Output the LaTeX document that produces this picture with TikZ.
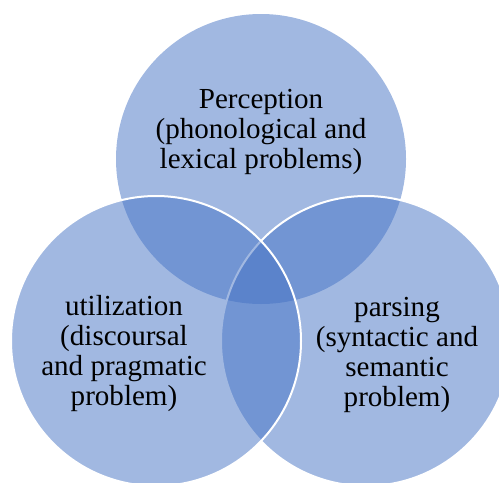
\documentclass[tikz,border=0pt]{standalone}
\usepackage{fontspec}
\setmainfont{Liberation Serif}
\definecolor{vennblue}{HTML}{4472C4}
\begin{document}
\begin{tikzpicture}[x=0.75pt,y=-0.75pt,line join=round,
	set/.style={circle,minimum size=217.5pt,inner sep=0pt,fill=vennblue,fill opacity=0.5,draw=white,line width=1.5pt},
	lbl/.style={align=center,text=black,font=\fontsize{21.8}{22.5}\selectfont}]
	\useasboundingbox (0,0) rectangle (499,482);
	% the three sets
	\node[set,draw=none] (perception) at (261,159) {};
	\node[set] (parsing) at (366,341) {};
	\node[set] (utilization) at (156,341) {};
	% texts
	\node[lbl] (perceptiontxt) at (261,132) {Perception\\(phonological and\\lexical problems)};
	\node[lbl] (utilizationtxt) at (124,354) {utilization\\(discoursal\\and pragmatic\\problem)};
	\node[lbl] (parsingtxt) at (397,355) {parsing\\(syntactic and\\semantic\\problem)};
\end{tikzpicture}
\end{document}
